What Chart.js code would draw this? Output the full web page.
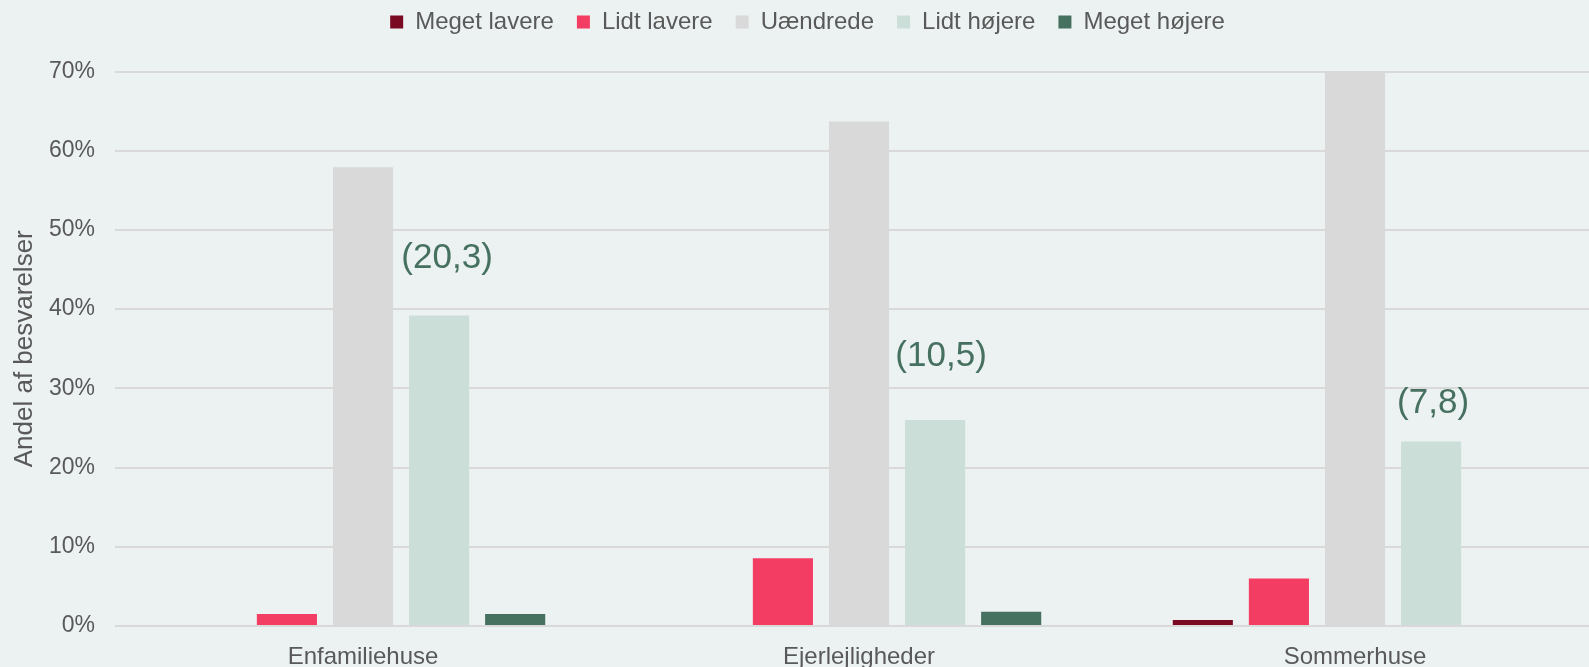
<!DOCTYPE html>
<html>
<head>
<meta charset="utf-8">
<script src="https://cdn.jsdelivr.net/npm/chart.js@4"></script>
<style>
  html, body { margin: 0; padding: 0; background: #ecf2f2; overflow: hidden; }
  #wrap { position: relative; width: 1603px; height: 680px; }
</style>
</head>
<body>
<div id="wrap"><canvas id="chart"></canvas></div>
<script>
const categories = ['Enfamiliehuse', 'Ejerlejligheder', 'Sommerhuse'];
const seriesNames = ['Meget lavere', 'Lidt lavere', 'Uændrede', 'Lidt højere', 'Meget højere'];
const megetLavere = [0, 0, 0.75];
const lidtLavere = [1.5, 8.55, 6.0];
const uaendrede = [57.9, 63.7, 69.8];
const lidtHojere = [39.2, 26.0, 23.3];
const megetHojere = [1.5, 1.8, 0];
const noteLabels = ['(20,3)', '(10,5)', '(7,8)'];
const yTicks = [0, 10, 20, 30, 40, 50, 60, 70];

const colors = ['#7a0a22', '#f33d63', '#d9d9d9', '#cbded8', '#46705f'];
const textGrey = '#595959';
const font = '"Liberation Sans", Arial, sans-serif';

// placering af teksterne over "Lidt højere"-søjlerne (dx, dy i px)
const noteOffsets = [[8, -57], [6, -64], [2, -38]];

const notePlugin = {
  id: 'notes',
  afterLayout(chart) {
    // forklaringen sidder lidt til højre i originalen
    chart.legend.left += 6;
    chart.legend.right += 6;
  },
  afterDatasetsDraw(chart) {
    const meta = chart.getDatasetMeta(3);
    const ctx = chart.ctx;
    ctx.save();
    ctx.font = '35px ' + font;
    ctx.fillStyle = '#46705f';
    ctx.textAlign = 'center';
    ctx.textBaseline = 'middle';
    meta.data.forEach((bar, i) => {
      const [dx, dy] = noteOffsets[i];
      ctx.fillText(noteLabels[i], bar.x + dx, bar.y + dy);
    });
    ctx.restore();
  },
};

const allSeries = [megetLavere, lidtLavere, uaendrede, lidtHojere, megetHojere];

new Chart(document.getElementById('chart'), {
  type: 'bar',
  data: {
    labels: categories,
    datasets: allSeries.map((data, i) => ({
      label: seriesNames[i],
      data: data,
      backgroundColor: colors[i],
      categoryPercentage: 0.767,
      barPercentage: 0.79,
    })),
  },
  options: {
    responsive: true,
    maintainAspectRatio: false,
    animation: false,
    layout: { padding: { top: -13, left: 0, right: 0, bottom: 0 } },
    plugins: {
      legend: {
        position: 'top',
        weight: 3000,
        labels: {
          boxWidth: 13,
          boxHeight: 13,
          padding: 23,
          color: textGrey,
          font: { family: font, size: 24 },
        },
      },
      // tom titel som afstand mellem forklaring og plotområde
      title: {
        display: true,
        text: '',
        weight: 100,
        font: { size: 10 },
        padding: { top: 0, bottom: 15.5 },
      },
      tooltip: { enabled: false },
    },
    scales: {
      x: {
        grid: { display: false },
        border: { display: false },
        ticks: {
          color: textGrey,
          padding: 9,
          font: { family: font, size: 24 },
        },
        afterFit(scale) { scale.height = 54; },
      },
      y: {
        min: 0,
        max: 70,
        afterBuildTicks(scale) { scale.ticks = yTicks.map((v) => ({ value: v })); },
        grid: { color: '#d9d9d9', lineWidth: 2, drawTicks: false },
        border: { display: false },
        ticks: {
          color: textGrey,
          padding: 20,
          font: { family: font, size: 23 },
          callback: (v) => v + '%',
        },
        title: {
          display: true,
          text: 'Andel af besvarelser',
          color: textGrey,
          padding: { top: 9, bottom: 0 },
          font: { family: font, size: 26 },
        },
        afterFit(scale) { scale.width = 115; },
      },
    },
  },
  plugins: [notePlugin],
});
</script>
</body>
</html>
